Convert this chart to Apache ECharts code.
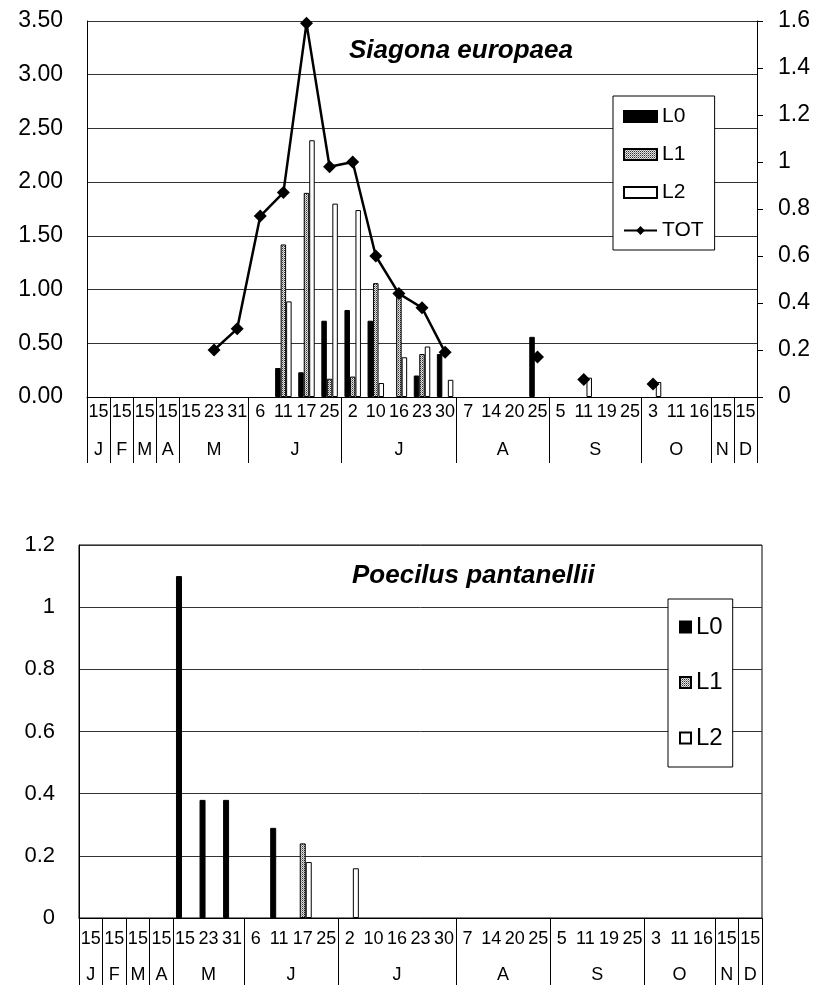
<!DOCTYPE html>
<html><head><meta charset="utf-8">
<script src="https://cdn.jsdelivr.net/npm/echarts@6/dist/echarts.min.js"></script>
<style>html,body{margin:0;padding:0;background:#fff}#c{width:814px;height:985px}</style>
</head><body><div id="c"></div>
<script>
// ---- data ----
const days = ['15','15','15','15','15','23','31','6','11','17','25','2','10','16','23','30','7','14','20','25','5','11','19','25','3','11','16','15','15'];
const months = ['J','F','M','A','M','J','J','A','S','O','N','D'];
const monthSpans = [1,1,1,1,3,4,5,4,4,3,1,1];

const titleTop = 'Siagona europaea';
const titleBottom = 'Poecilus pantanellii';

// Siagona europaea (left axis: L0..L2, right axis: TOT)
const S_L0 = [null,null,null,null,null,null,null,null,0.27,0.23,0.71,0.81,0.71,null,0.20,0.40,null,null,null,0.56,null,null,null,null,null,null,null,null,null];
const S_L1 = [null,null,null,null,null,null,null,null,1.42,1.90,0.17,0.19,1.06,0.97,0.40,null,null,null,null,null,null,null,null,null,null,null,null,null,null];
const S_L2 = [null,null,null,null,null,null,null,null,0.89,2.39,1.80,1.74,0.13,0.37,0.47,0.16,null,null,null,null,null,0.18,null,null,0.14,null,null,null,null];
const S_TOT = [null,null,null,null,null,0.20,0.29,0.77,0.87,1.59,0.98,1.00,0.60,0.44,0.38,0.19,null,null,null,0.17,null,0.075,null,null,0.055,null,null,null,null];

// Poecilus pantanellii
const P_L0 = [null,null,null,null,1.10,0.38,0.38,null,0.29,null,null,null,null,null,null,null,null,null,null,null,null,null,null,null,null,null,null,null,null];
const P_L1 = [null,null,null,null,null,null,null,null,null,0.24,null,null,null,null,null,null,null,null,null,null,null,null,null,null,null,null,null,null,null];
const P_L2 = [null,null,null,null,null,null,null,null,null,0.18,null,0.16,null,null,null,null,null,null,null,null,null,null,null,null,null,null,null,null,null];

// axis ranges / ticks
const topLeftAxis = {min: 0, max: 3.5, interval: 0.5};
const topRightAxis = {min: 0, max: 1.6, interval: 0.2};
const bottomAxis = {min: 0, max: 1.2, interval: 0.2};

// ---- derived helpers ----
const monthStarts = [];
const monthCenters = {};
(function(){ let s = 0; monthSpans.forEach((w,i)=>{ monthStarts.push(s); monthCenters[(s + w/2).toFixed(1)] = months[i]; s += w; }); })();

const FONT = "'Liberation Sans', Arial, sans-serif";

const pc = document.createElement('canvas'); pc.width = 2; pc.height = 2;
const pctx = pc.getContext('2d');
pctx.fillStyle = '#e4e4e4'; pctx.fillRect(0,0,2,2);
pctx.fillStyle = '#303030'; pctx.fillRect(0,0,1,1);
pctx.fillStyle = '#909090'; pctx.fillRect(1,1,1,1);
const pattern = {image: pc, repeat: 'repeat'};

const barStyles = {
  L0: {color: '#000', borderColor: '#000', borderWidth: 1},
  L1: {color: pattern, borderColor: '#000', borderWidth: 1},
  L2: {color: '#fff', borderColor: '#000', borderWidth: 1}
};

function dayAxis(gi, labelMargin, tickLen) {
  return {
    gridIndex: gi, type: 'category', data: days, position: 'bottom',
    axisLine: {show: true, lineStyle: {color: '#000', width: 1}},
    axisTick: {show: true, length: tickLen, interval: (idx) => monthStarts.includes(idx), lineStyle: {color: '#000', width: 1}},
    axisLabel: {interval: 0, margin: labelMargin, fontSize: 18, color: '#000', fontFamily: FONT},
    splitLine: {show: false}
  };
}
function monthAxis(gi, labelMargin) {
  return {
    gridIndex: gi, type: 'value', min: 0, max: days.length, interval: 0.5, position: 'bottom',
    axisLine: {show: false}, axisTick: {show: false}, splitLine: {show: false},
    axisLabel: {margin: labelMargin, fontSize: 18, color: '#000', fontFamily: FONT,
      showMinLabel: true, showMaxLabel: true,
      formatter: (v) => monthCenters[Number(v).toFixed(1)] || ''}
  };
}
function bar(name, data, xi, yi, w) {
  return {name, type: 'bar', xAxisIndex: xi, yAxisIndex: yi, data, barWidth: w, barGap: '0%',
    itemStyle: barStyles[name], z: 2, animation: false};
}

const chart = echarts.init(document.getElementById('c'), null, {renderer: 'canvas'});
chart.setOption({
  animation: false,
  backgroundColor: '#fff',
  textStyle: {fontFamily: FONT},
  title: [
    {text: titleTop, left: 349, top: 38, padding: 0,
     textStyle: {fontSize: 26, fontWeight: 'bold', fontStyle: 'italic', color: '#000', fontFamily: FONT}},
    {text: titleBottom, left: 352, top: 563, padding: 0,
     textStyle: {fontSize: 26, fontWeight: 'bold', fontStyle: 'italic', color: '#000', fontFamily: FONT}}
  ],
  grid: [
    {left: 87, right: 57, top: 21, height: 376, show: false, outerBoundsMode: 'none', containLabel: false},
    {left: 79, right: 52, top: 545, height: 373, show: true, borderColor: '#000', borderWidth: 1, backgroundColor: 'transparent', outerBoundsMode: 'none', containLabel: false}
  ],
  legend: [
    {data: [{name: 'L0', icon: 'rect'}, {name: 'L1', icon: 'rect'}, {name: 'L2', icon: 'rect'}, {name: 'TOT'}],
     orient: 'vertical', left: 613, top: 96,
     padding: [10, 11, 9, 10], itemGap: 17, itemWidth: 33, itemHeight: 11,
     backgroundColor: '#fff', borderColor: '#000', borderWidth: 1,
     textStyle: {fontSize: 21, color: '#000', fontFamily: FONT}},
    {data: [{name: 'L0', icon: 'rect'}, {name: 'L1', icon: 'rect'}, {name: 'L2', icon: 'rect'}],
     orient: 'vertical', left: 668, top: 599,
     padding: [16, 10, 17, 11], itemGap: 31.5, itemWidth: 11, itemHeight: 11,
     backgroundColor: '#fff', borderColor: '#000', borderWidth: 1,
     textStyle: {fontSize: 24, color: '#000', fontFamily: FONT}}
  ],
  xAxis: [
    dayAxis(0, 6, 66),
    monthAxis(0, 44),
    dayAxis(1, 12, 70),
    monthAxis(1, 48)
  ],
  yAxis: [
    {gridIndex: 0, type: 'value', position: 'left', min: topLeftAxis.min, max: topLeftAxis.max, interval: topLeftAxis.interval,
     axisLine: {show: true, lineStyle: {color: '#000'}}, axisTick: {show: false},
     splitLine: {show: true, lineStyle: {color: '#333', width: 1}},
     axisLabel: {margin: 24, fontSize: 23, color: '#000', fontFamily: FONT, formatter: (v) => v.toFixed(2)}},
    {gridIndex: 0, type: 'value', position: 'right', min: topRightAxis.min, max: topRightAxis.max, interval: topRightAxis.interval,
     axisLine: {show: true, lineStyle: {color: '#000'}}, axisTick: {show: true, length: 6, lineStyle: {color: '#000'}},
     splitLine: {show: false},
     axisLabel: {margin: 21, fontSize: 23, color: '#000', fontFamily: FONT}},
    {gridIndex: 1, type: 'value', position: 'left', min: bottomAxis.min, max: bottomAxis.max, interval: bottomAxis.interval,
     axisLine: {show: true, lineStyle: {color: '#000'}}, axisTick: {show: false},
     splitLine: {show: true, lineStyle: {color: '#333', width: 1}},
     axisLabel: {margin: 24, fontSize: 22, color: '#000', fontFamily: FONT}}
  ],
  series: [
    bar('L0', S_L0, 0, 0, 5.5),
    bar('L1', S_L1, 0, 0, 5.5),
    bar('L2', S_L2, 0, 0, 5.5),
    {name: 'TOT', type: 'line', xAxisIndex: 0, yAxisIndex: 1, data: S_TOT, connectNulls: false,
     symbol: 'diamond', symbolSize: 13, showAllSymbol: true, z: 5,
     lineStyle: {color: '#000', width: 2.5}, itemStyle: {color: '#000'}, animation: false},
    bar('L0', P_L0, 2, 2, 6),
    bar('L1', P_L1, 2, 2, 6),
    bar('L2', P_L2, 2, 2, 6)
  ]
});
</script>
</body></html>
